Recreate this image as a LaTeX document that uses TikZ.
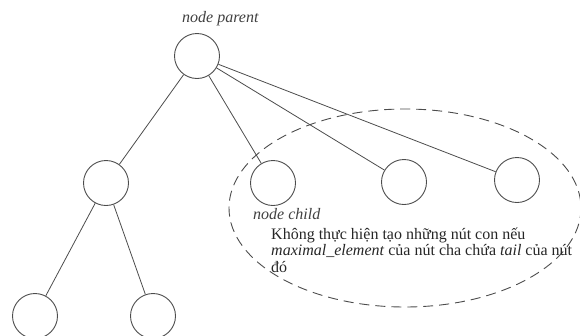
\documentclass[tikz,border=0pt]{standalone}
\usepackage{fontspec}
\setmainfont{Liberation Serif}
\usetikzlibrary{positioning}
\tikzset{
    % Colors
    line color/.style={black!70},
    %
    % Nodes
    tree node/.style={circle,draw,line color,line width=0.9pt,minimum size=45pt,inner sep=0pt},
    tree edge/.style={line color,line width=0.8pt},
    region/.style={line color,line width=0.9pt,dash pattern=on 10pt off 6pt},
    caption/.style={font=\itshape\fontsize{16}{18}\selectfont,black!75,inner sep=0pt,anchor=base west},
    note line/.style={black!85,inner sep=0pt,anchor=base west}
}
\tikzstyle{every node}=[font=\fontsize{16}{18}\selectfont]

\begin{document}
\begin{tikzpicture}[x=1pt,y=-1pt]
        \useasboundingbox (0,0) rectangle (580,335);
        \node[tree node] (parent) at (197,56) {};
        \node[tree node] (left) at (106,183) {};
        \node[tree node] (child a) at (273,183) {};
        \node[tree node] (child b) at (404,182) {};
        \node[tree node] (child c) at (517,180) {};
        \node[tree node] (leaf a) at (35,316) {};
        \node[tree node] (leaf b) at (153,316) {};
        \foreach \n in {left,child a,child b,child c}
            \draw[tree edge] (parent) -- (\n);
        \draw[tree edge] (left) -- (leaf a);
        \draw[tree edge] (left) -- (leaf b);
        \draw[region] (405,208) ellipse [x radius=176,y radius=99];
        \node[caption] (lblparent) at (182,22) {node parent};
        \node[caption] (lblchild) at (253,219) {node child};
        \node[note line] (note a) at (271,239) {Không thực hiện tạo những nút con nếu};
        \node[note line] (note b) at (271,255) {\textit{maximal\_element} của nút cha chứa \textit{tail} của nút};
        \node[note line] (note c) at (271,272) {đó};
    \end{tikzpicture}
\end{document}
